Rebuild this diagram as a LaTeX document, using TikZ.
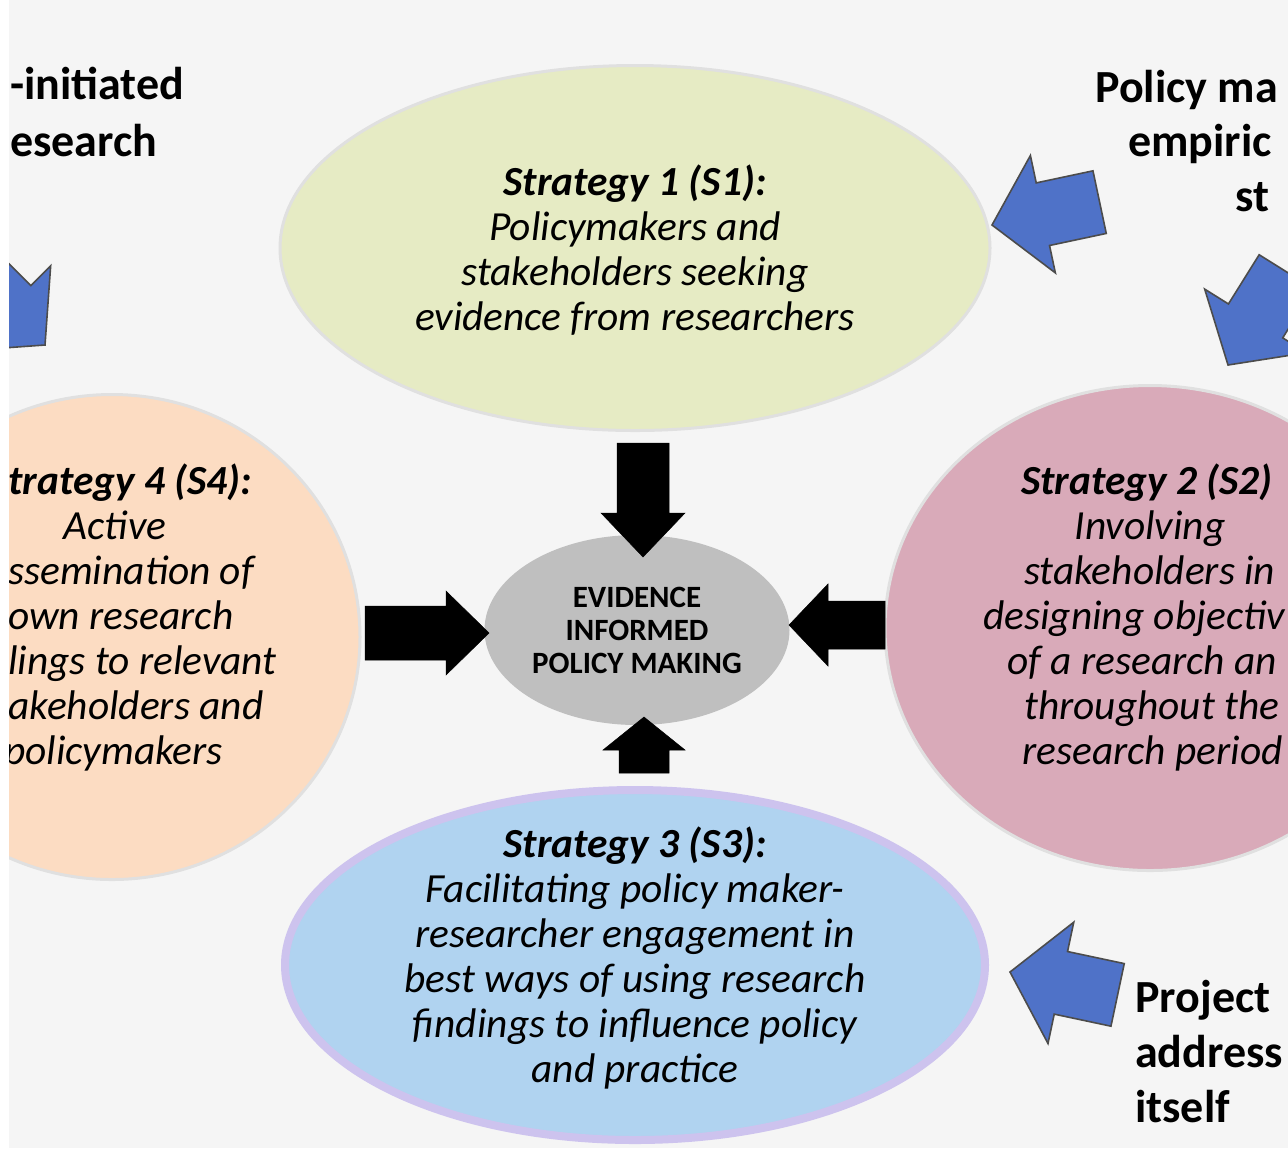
\documentclass[tikz,border=0pt]{standalone}
\usepackage{fontspec}
\setmainfont{Carlito}
\usetikzlibrary{shapes.geometric}
\definecolor{bgcol}{HTML}{F5F5F5}
\definecolor{sonecol}{HTML}{E6EBC4}
\definecolor{stwocol}{HTML}{D9AAB9}
\definecolor{sthreecol}{HTML}{B0D3F0}
\definecolor{sthreerim}{HTML}{CDC3EE}
\definecolor{sfourcol}{HTML}{FCDCC2}
\definecolor{epmcol}{HTML}{BFBFBF}
\definecolor{arrblue}{HTML}{4F72C8}
% block arrow: style, tip, direction, length, head length, head half width, shaft half width
\newcommand{\blockarrow}[7]{%
	\filldraw[#1,shift={(#2)},rotate=#3] (0,0) -- (-#5,#6) -- (-#5,#7) -- (-#4,#7) -- (-#4,-#7) -- (-#5,-#7) -- (-#5,-#6) -- cycle;}
\begin{document}
\begin{tikzpicture}[x=0.5pt,y=-0.5pt,line width=0.25pt,
		ell/.style={ellipse,inner sep=0pt,draw=black!12,line width=1.5pt},
		body/.style={font=\fontsize{20.7}{22.5}\selectfont\itshape,text=black,inner sep=0pt},
		title/.style={font=\fontsize{20.7}{22.5}\selectfont\bfseries\itshape,text=black,inner sep=0pt},
		side/.style={font=\fontsize{23}{28.5}\selectfont\bfseries,inner sep=0pt,anchor=mid west},
		blk/.style={fill=black,draw=black},
		blu/.style={fill=arrblue,draw=black!70,line width=0.8pt}]
	\useasboundingbox (0,0) rectangle (1288,1148);
	\clip (0,0) rectangle (1288,1148);
	\fill[bgcol] (0,0) rectangle (1288,1148);
	% strategy ellipses
	\node[ell,fill=sonecol,minimum width=355pt,minimum height=182.5pt] (s1) at (635,248) {};
	\node[ell,fill=sfourcol,minimum width=248pt,minimum height=242.5pt] (s4) at (112,637) {};
	\node[ell,fill=stwocol,minimum width=265pt,minimum height=242.5pt] (s2) at (1150,628) {};
	\node[ell,fill=sthreecol,draw=sthreerim,line width=4pt,minimum width=350pt,minimum height=175pt] (s3) at (635,965) {};
	\node[ell,fill=epmcol,draw=none,minimum width=152.5pt,minimum height=95pt,align=center,
		font=\fontsize{15.5}{16.5}\selectfont\bfseries] (epm) at (637,630) {EVIDENCE\\INFORMED\\POLICY MAKING};
	% black arrows into the centre
	\coordinate (tipt) at (643,557);
	\coordinate (tipl) at (489,633);
	\coordinate (tipr) at (789,625);
	\coordinate (tipb) at (644,717);
	\blockarrow{blk}{tipt}{-90}{114}{44}{42}{26}
	\blockarrow{blk}{tipl}{0}{124}{43}{42}{27}
	\blockarrow{blk}{tipr}{180}{96}{39}{41}{24}
	\blockarrow{blk}{tipb}{90}{56}{33}{41}{25}
	% blue arrows
	\coordinate (bluetr) at (992,225);
	\coordinate (bluebr) at (1010,972);
	\coordinate (bluert) at (1228,365);
	\coordinate (bluelt) at (45,345);
	\blockarrow{blu}{bluetr}{192}{110}{52}{60}{32}
	\blockarrow{blu}{bluebr}{168}{110}{52}{62}{32}
	\blockarrow{blu}{bluert}{-122}{110}{52}{60}{32}
	\blockarrow{blu}{bluelt}{-45}{110}{52}{60}{32}
	% strategy texts
	\node[body,align=center] (t1) at (635,250) {{\bfseries Strategy 1 (S1):}\\Policymakers and\\stakeholders seeking\\evidence from researchers};
	\node[body,align=center] (t3) at (635,958) {{\bfseries Strategy 3 (S3):}\\Facilitating policy maker-\\researcher engagement in\\best ways of using research\\findings to influence policy\\and practice};
	\node[title,anchor=mid west] (t4a) at (8,490) {trategy 4 (S4):};
	\node[body,anchor=mid] (t4b) at (115,535) {Active};
	\node[body,anchor=mid west] (t4c) at (8,580) {ssemination of};
	\node[body,anchor=mid west] (t4d) at (8,625) {own research};
	\node[body,anchor=mid west] (t4e) at (8,670) {lings to relevant};
	\node[body,anchor=mid west] (t4f) at (8,715) {akeholders and};
	\node[body,anchor=mid west] (t4g) at (4,760) {policymakers};
	\node[title,anchor=mid west] (t2a) at (1021,490) {Strategy 2 (S2)};
	\node[body,anchor=mid] (t2b) at (1150,535) {Involving};
	\node[body,anchor=mid west] (t2c) at (1024,580) {stakeholders in};
	\node[body,anchor=mid west] (t2d) at (983,625) {designing objectiv};
	\node[body,anchor=mid west] (t2e) at (1007,670) {of a research an};
	\node[body,anchor=mid west] (t2f) at (1024,715) {throughout the};
	\node[body,anchor=mid west] (t2g) at (1022,760) {research period};
	% side labels
	\node[side] (lt1) at (10,95) {-initiated};
	\node[side] (lt2) at (10,152) {esearch};
	\node[side] (rt1) at (1095,98) {Policy ma};
	\node[side] (rt2) at (1128,152) {empiric};
	\node[side] (rt3) at (1235,207) {st};
	\node[side] (rb1) at (1135,1008) {Project};
	\node[side] (rb2) at (1135,1063) {address};
	\node[side] (rb3) at (1135,1118) {itself};
	\fill[white] (0,0) rectangle (9,1148);
\end{tikzpicture}
\end{document}
